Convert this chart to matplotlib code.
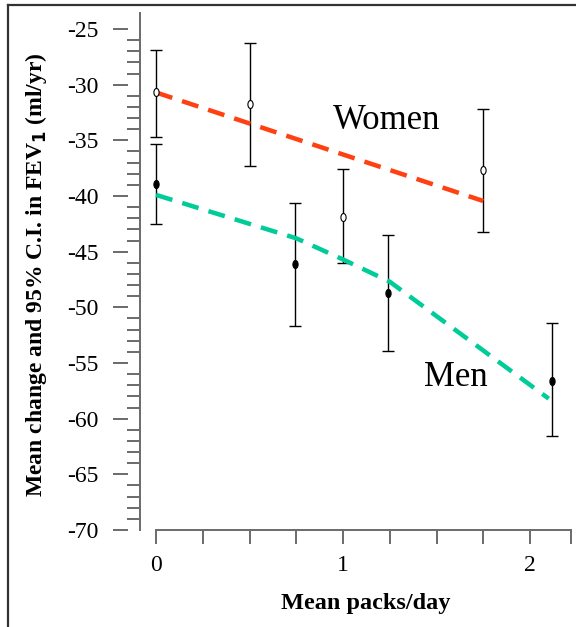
import numpy as np
import matplotlib
matplotlib.use('Agg')
import matplotlib.pyplot as plt
from matplotlib.path import Path
from matplotlib.transforms import Affine2D
from matplotlib.lines import Line2D

plt.rcParams['font.family'] = ['Liberation Serif', 'DejaVu Serif']

# Women (open markers)
packs_women = [0.0, 0.5, 1.0, 1.75]
fev_women = [-30.7, -31.7, -41.9, -37.7]
ci_women_hi = [-26.9, -26.3, -37.6, -32.2]
ci_women_lo = [-34.7, -37.3, -46.0, -43.2]
fit_women_x = [0.0, 1.75]
fit_women_y = [-30.7, -40.45]

# Men (filled markers)
packs_men = [0.0, 0.745, 1.24, 2.12]
fev_men = [-38.9, -46.1, -48.75, -56.6]
ci_men_hi = [-35.3, -40.6, -43.5, -51.4]
ci_men_lo = [-42.5, -51.7, -53.9, -61.6]
fit_men_x = [0.0, 0.75, 1.0, 1.25, 2.1]
fit_men_y = [-39.9, -43.8, -45.7, -47.7, -58.2]

y_major = [-70, -65, -60, -55, -50, -45, -40, -35, -30, -25]
x_labels = ['0', '1', '2']

W, H = 576, 627
fig = plt.figure(figsize=(W / 100, H / 100), dpi=100)

def px(v):
    return v * 72 / 100  # pixels -> points

ax_left, ax_right, ax_top, ax_bot = 140, 571, 13, 530
pos = [ax_left / W, 1 - ax_bot / H, (ax_right - ax_left) / W, (ax_bot - ax_top) / H]
ax = fig.add_axes(pos)
ylim = (-70, -25 + (29 - 13) / 11.13)
xmin = (140 - 156) / 187
xmax = (571 - 156) / 187
ax.set_xlim(xmin, xmax)
ax.set_ylim(*ylim)

grey = '#6a6a6a'
for s in ['top', 'right']:
    ax.spines[s].set_visible(False)
ax.spines['left'].set_color(grey)
ax.spines['bottom'].set_color(grey)
ax.spines['left'].set_linewidth(1.4)
ax.spines['bottom'].set_linewidth(1.4)
ax.spines['bottom'].set_bounds(0, xmax)

# y: small ticks on integers, big ones drawn on a shifted axis
ax.set_yticks([])
ax.set_yticks([v for v in range(-69, -24) if v % 5 != 0], minor=True)
ax.tick_params(axis='y', which='minor', direction='out', length=px(13),
               width=1.4, color=grey)

xt = list(np.arange(0, 2.01, 0.25)) + [xmax]
ax.set_xticks([0, 1, 2])
ax.set_xticklabels(x_labels)
ax.set_xticks([t for t in xt if t not in (0, 1, 2)], minor=True)
ax.tick_params(axis='x', which='both', direction='out', length=px(14),
               width=1.4, color=grey, labelsize=17, pad=px(11))

ax2 = fig.add_axes([(ax_left - 12) / W, pos[1], 0.01, pos[3]])
ax2.set_ylim(*ylim)
ax2.patch.set_visible(False)
for s in ax2.spines.values():
    s.set_visible(False)
ax2.set_xticks([])
ax2.set_yticks(y_major)
ax2.set_yticklabels([str(v) for v in y_major])
ax2.tick_params(axis='y', direction='out', length=px(15), width=1.4,
                color=grey, labelsize=17, pad=px(14))

# error bars
ax.errorbar(packs_women, fev_women,
            yerr=[np.subtract(fev_women, ci_women_lo), np.subtract(ci_women_hi, fev_women)],
            fmt='none', ecolor='black', elinewidth=1.0, capsize=px(6), capthick=1.0, zorder=2)
ax.errorbar(packs_men, fev_men,
            yerr=[np.subtract(fev_men, ci_men_lo), np.subtract(ci_men_hi, fev_men)],
            fmt='none', ecolor='black', elinewidth=1.0, capsize=px(6), capthick=1.0, zorder=2)

# fitted dashed lines
ax.plot(fit_women_x, fit_women_y, color='#FF4010', lw=px(4.5), dashes=(3.8, 2.3),
        solid_capstyle='butt', dash_capstyle='butt', zorder=3)
ax.plot(fit_men_x, fit_men_y, color='#00CC99', lw=px(4.5), dashes=(3.8, 2.3),
        solid_capstyle='butt', dash_capstyle='butt', zorder=3)

ell = Path.unit_circle().transformed(Affine2D().scale(0.65, 1.0))
ax.plot(packs_women, fev_women, ls='none', marker=ell, ms=px(8), mfc='white',
        mec='black', mew=0.8, zorder=4)
ax.plot(packs_men, fev_men, ls='none', marker=ell, ms=px(8), mfc='black',
        mec='black', mew=0.8, zorder=4)

ax.text(0.947, -33.2, 'Women', fontsize=25, va='center', ha='left')
ax.text(1.435, -56.3, 'Men', fontsize=25, va='center', ha='left')

fig.text(366 / W, 1 - 603 / H, 'Mean packs/day', fontsize=17.5, fontweight='bold',
         ha='center', va='center')
fig.text(36 / W, 1 - 275 / H, 'Mean change and 95% C.I. in FEV$_\\mathbf{1}$ (ml/yr)',
         fontsize=17, fontweight='bold', rotation=90, ha='center', va='center')

# partial frame around the figure
fig.add_artist(Line2D([8 / W, 8 / W], [0, 1 - 5 / H], color='#333333', lw=1.6,
                      transform=fig.transFigure))
fig.add_artist(Line2D([8 / W, 1], [1 - 5 / H, 1 - 5 / H], color='#333333', lw=1.6,
                      transform=fig.transFigure))

fig.savefig('out.png', dpi=100)
